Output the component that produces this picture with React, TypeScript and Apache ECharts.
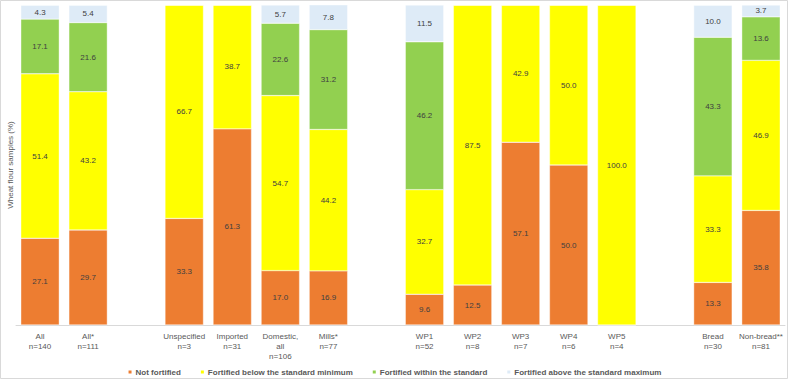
import React, { useEffect, useRef } from "react";
import * as echarts from "echarts";

const categories = [
  "All\nn=140", "All*\nn=111", "",
  "Unspecified\nn=3", "Imported\nn=31", "Domestic,\nall\nn=106", "Mills*\nn=77", "",
  "WP1\nn=52", "WP2\nn=8", "WP3\nn=7", "WP4\nn=6", "WP5\nn=4", "",
  "Bread\nn=30", "Non-bread**\nn=81",
];
const seriesNames = [
  "Not fortified",
  "Fortified below the standard minimum",
  "Fortified within the standard",
  "Fortified above the standard maximum",
];
const notFortified = [27.1, 29.7, null, 33.3, 61.3, 17.0, 16.9, null, 9.6, 12.5, 57.1, 50.0, 0, null, 13.3, 35.8];
const belowMin = [51.4, 43.2, null, 66.7, 38.7, 54.7, 44.2, null, 32.7, 87.5, 42.9, 50.0, 100.0, null, 33.3, 46.9];
const withinStd = [17.1, 21.6, null, 0, 0, 22.6, 31.2, null, 46.2, 0, 0, 0, 0, null, 43.3, 13.6];
const aboveMax = [4.3, 5.4, null, 0, 0, 5.7, 7.8, null, 11.5, 0, 0, 0, 0, null, 10.0, 3.7];
const colors = ["#ED7D31", "#FFFF00", "#92D050", "#DEEBF7"];

const FONT = "'Liberation Sans', Arial, sans-serif";

export default function App() {
  const ref = useRef<HTMLDivElement>(null);
  useEffect(() => {
    document.body.style.margin = "0";
    const chart = echarts.init(ref.current!, null, { renderer: "svg" });
    const data = [notFortified, belowMin, withinStd, aboveMax];
    chart.setOption({
      animation: false,
      textStyle: { fontFamily: FONT },
      graphic: [
        {
          type: "rect",
          shape: { x: 0.5, y: 0.5, width: 787, height: 378 },
          style: { fill: "none", stroke: "#d9d9d9", lineWidth: 1 },
          silent: true,
        },
      ],
      grid: { left: 16, right: 3, top: 5, bottom: 54, containLabel: false, outerBoundsMode: "none" },
      legend: {
        bottom: -2,
        left: "center",
        itemWidth: 5,
        itemHeight: 5,
        itemGap: 18,
        icon: "rect",
        textStyle: { fontSize: 8, fontWeight: "bold", color: "#595959", fontFamily: FONT, padding: [0, 0, 0, -2] },
        data: seriesNames.map((name) => ({ name, icon: "rect" })),
      },
      xAxis: {
        type: "category",
        data: categories,
        axisLine: { lineStyle: { color: "#d9d9d9" } },
        axisTick: { show: false },
        axisLabel: { interval: 0, fontSize: 8, color: "#595959", lineHeight: 10, margin: 6, fontFamily: FONT },
      },
      yAxis: {
        type: "value",
        min: 0,
        max: 100,
        name: "Wheat flour samples (%)",
        nameLocation: "middle",
        nameGap: 2,
        nameTextStyle: { fontSize: 8, color: "#595959", fontFamily: FONT },
        axisLabel: { show: false },
        splitLine: { show: false },
        axisLine: { show: false },
        axisTick: { show: false },
      },
      series: seriesNames.map((name, i) => ({
        name,
        type: "bar",
        stack: "total",
        barCategoryGap: "20%",
        data: data[i],
        itemStyle: { color: colors[i], borderColor: "#ffffff", borderWidth: 0.4 },
        label: {
          show: true,
          position: "inside",
          fontSize: 8,
          color: "#404040",
          fontFamily: FONT,
          formatter: (p: any) => (p.value ? Number(p.value).toFixed(1) : ""),
        },
      })),
    });
    return () => chart.dispose();
  }, []);
  return <div ref={ref} style={{ width: 788, height: 379 }} />;
}
